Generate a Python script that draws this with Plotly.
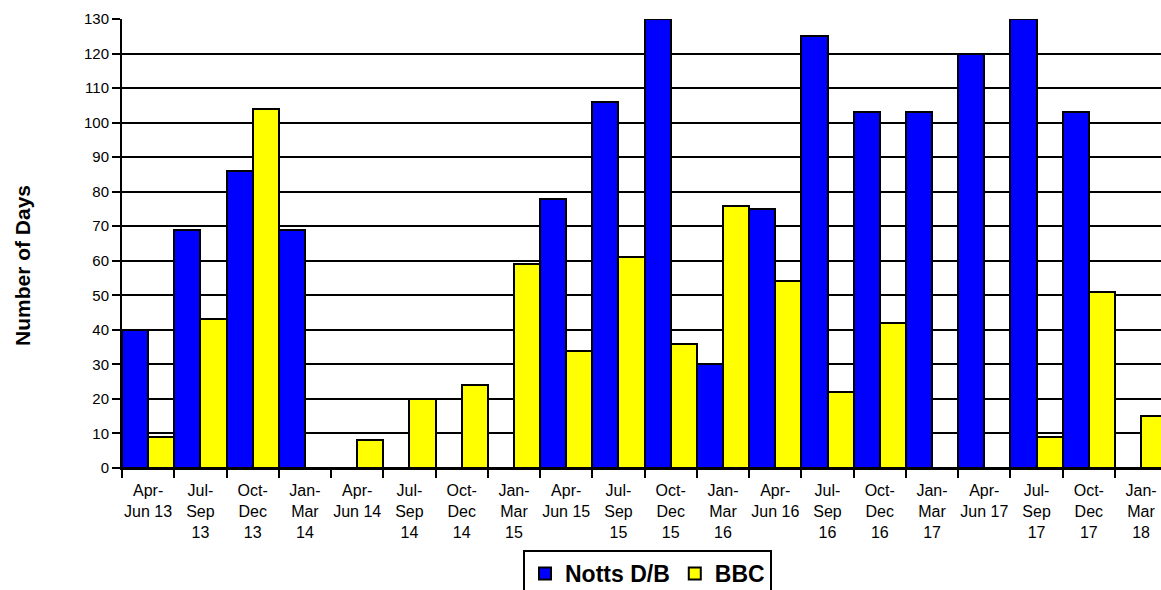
import plotly.graph_objects as go

# Quarterly periods shown on the category axis
quarters = [
    "Apr-<br>Jun 13", "Jul-<br>Sep<br>13", "Oct-<br>Dec<br>13", "Jan-<br>Mar<br>14",
    "Apr-<br>Jun 14", "Jul-<br>Sep<br>14", "Oct-<br>Dec<br>14", "Jan-<br>Mar<br>15",
    "Apr-<br>Jun 15", "Jul-<br>Sep<br>15", "Oct-<br>Dec<br>15", "Jan-<br>Mar<br>16",
    "Apr-<br>Jun 16", "Jul-<br>Sep<br>16", "Oct-<br>Dec<br>16", "Jan-<br>Mar<br>17",
    "Apr-<br>Jun 17", "Jul-<br>Sep<br>17", "Oct-<br>Dec<br>17", "Jan-<br>Mar<br>18",
]

# Number of days per quarter for each series
notts_db = [40, 69, 86, 69, 0, 0, 0, 0, 78, 106, 130, 30, 75, 125, 103, 103, 120, 130, 103, 0]
bbc = [9, 43, 104, 0, 8, 20, 24, 59, 34, 61, 36, 76, 54, 22, 42, 0, 0, 9, 51, 15]

y_ticks = list(range(0, 131, 10))
y_title = "Number of Days"

cats = [f"q{i}" for i in range(len(quarters))]

fig = go.Figure()
fig.add_trace(go.Bar(
    x=cats, y=notts_db, name="Notts D/B",
    marker=dict(color="#0000FF", line=dict(color="black", width=2)),
))
fig.add_trace(go.Bar(
    x=cats, y=bbc, name="BBC",
    marker=dict(color="#FFFF00", line=dict(color="black", width=2)),
))

W, H = 1161, 590
left, top, bottom = 122, 19, 122
cat_px = 52.26
plot_w = W - left
plot_h = H - top - bottom
x_end = -0.5 + plot_w / cat_px


def px_to_paper_x(px):
    return (px - left) / plot_w


def px_to_paper_y(py):
    return (H - bottom - py) / plot_h


fig.update_layout(
    width=W, height=H,
    margin=dict(l=left, r=0, t=top, b=bottom, autoexpand=False),
    paper_bgcolor="white", plot_bgcolor="white",
    barmode="group", bargap=0, bargroupgap=0,
    font=dict(family="Arial, Liberation Sans, sans-serif", color="black"),
    xaxis=dict(
        type="category", range=[-0.5, x_end],
        tickmode="array", tickvals=cats, ticktext=quarters, tickangle=0,
        tickson="boundaries", ticks="outside", ticklen=8, tickwidth=2, tickcolor="black",
        ticklabelstandoff=7,
        showline=True, linecolor="black", linewidth=2,
        showgrid=False, zeroline=False,
        tickfont=dict(family="Arial, Liberation Sans, sans-serif", size=16, color="black"),
        automargin=False,
    ),
    yaxis=dict(
        range=[0, 130], tickmode="array", tickvals=y_ticks,
        ticks="outside", ticklen=8, tickwidth=2, tickcolor="black",
        showline=True, linecolor="black", linewidth=2,
        showgrid=True, gridcolor="black", gridwidth=2,
        zeroline=False,
        tickfont=dict(family="Arial, Liberation Sans, sans-serif", size=15, color="black"),
        automargin=False,
    ),
    legend=dict(
        orientation="h", x=px_to_paper_x(523), xanchor="left",
        y=px_to_paper_y(550), yanchor="top",
        bordercolor="black", borderwidth=2, bgcolor="white",
        font=dict(family="Arial, Liberation Sans, sans-serif", size=23, color="black", weight="bold"),
        itemwidth=30, traceorder="normal",
    ),
    showlegend=True,
    annotations=[dict(
        text=f"<b>{y_title}</b>", textangle=-90, showarrow=False,
        xref="paper", yref="paper",
        x=px_to_paper_x(22), y=px_to_paper_y(266),
        xanchor="center", yanchor="middle",
        font=dict(family="Arial, Liberation Sans, sans-serif", size=21, color="black"),
    )],
)

fig.write_html("out.html")
